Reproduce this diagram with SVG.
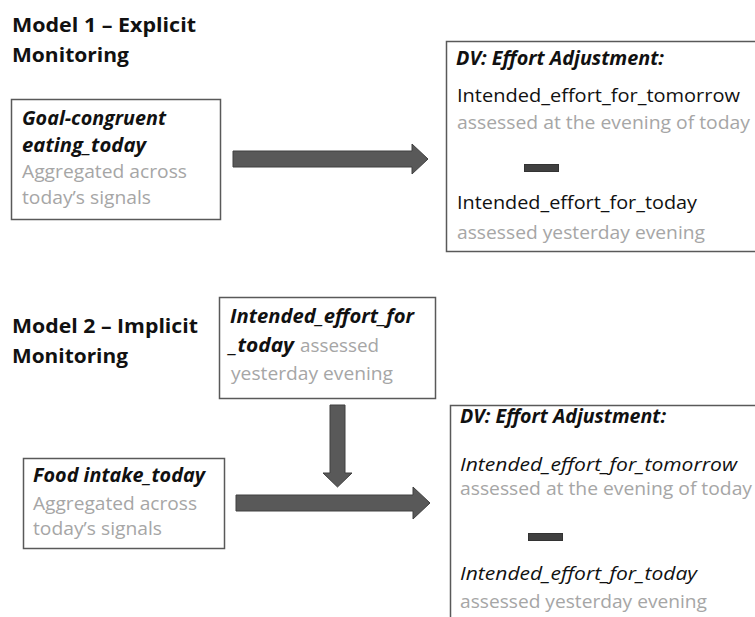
<svg xmlns="http://www.w3.org/2000/svg" width="755" height="617" viewBox="0 0 755 617">
<style>
text{font-family:"Open Sans","Liberation Sans",sans-serif;font-size:19px;fill:#111}
.title{font-weight:bold;font-size:20px}
.bi{font-weight:bold;font-style:italic}
.it{font-style:italic}
.g{fill:#a6a6a6}
.box{fill:#fff;stroke:#595959;stroke-width:1.5}
.arr{fill:#595959;stroke:#404040;stroke-width:1}
</style>
<rect width="755" height="617" fill="#fff"/>
<g id="title1">
<text class="title" x="12" y="32" textLength="184" lengthAdjust="spacingAndGlyphs">Model 1 – Explicit</text>
<text class="title" x="12" y="62" textLength="117" lengthAdjust="spacingAndGlyphs">Monitoring</text>
</g>
<g id="goal">
<rect class="box" x="11.5" y="99.5" width="209" height="120"/>
<text class="bi" x="22" y="125" textLength="144" lengthAdjust="spacingAndGlyphs">Goal-congruent</text>
<text class="bi" x="22" y="152" textLength="124" lengthAdjust="spacingAndGlyphs">eating_today</text>
<text class="g" x="22" y="178" textLength="165" lengthAdjust="spacingAndGlyphs">Aggregated across</text>
<text class="g" x="22" y="204" textLength="129" lengthAdjust="spacingAndGlyphs">today’s signals</text>
</g>
<g id="dv1">
<rect class="box" x="446.5" y="41.5" width="320" height="210"/>
<text class="bi" x="456" y="65" textLength="208" lengthAdjust="spacingAndGlyphs">DV: Effort Adjustment:</text>
<text x="457" y="102" textLength="283" lengthAdjust="spacingAndGlyphs">Intended_effort_for_tomorrow</text>
<text class="g" x="457" y="129" textLength="293" lengthAdjust="spacingAndGlyphs">assessed at the evening of today</text>
<rect x="524.5" y="164.5" width="34" height="7" fill="#404040" stroke="#333" stroke-width="1"/>
<text x="457" y="209" textLength="240" lengthAdjust="spacingAndGlyphs">Intended_effort_for_today</text>
<text class="g" x="457" y="239" textLength="248" lengthAdjust="spacingAndGlyphs">assessed yesterday evening</text>
</g>
<g id="title2">
<text class="title" x="12" y="333" textLength="186" lengthAdjust="spacingAndGlyphs">Model 2 – Implicit</text>
<text class="title" x="12" y="363" textLength="116" lengthAdjust="spacingAndGlyphs">Monitoring</text>
</g>
<g id="intended">
<rect class="box" x="219.5" y="297.5" width="216" height="101"/>
<text class="bi" x="230" y="323" textLength="184" lengthAdjust="spacingAndGlyphs">Intended_effort_for</text>
<text class="bi" x="229" y="352" textLength="65" lengthAdjust="spacingAndGlyphs">_today</text>
<text class="g" x="300" y="352" textLength="79" lengthAdjust="spacingAndGlyphs">assessed</text>
<text class="g" x="231" y="380" textLength="162" lengthAdjust="spacingAndGlyphs">yesterday evening</text>
</g>
<g id="food">
<rect class="box" x="23.5" y="458.5" width="201" height="90"/>
<text class="bi" x="33" y="482" textLength="172" lengthAdjust="spacingAndGlyphs">Food intake_today</text>
<text class="g" x="33" y="510" textLength="164" lengthAdjust="spacingAndGlyphs">Aggregated across</text>
<text class="g" x="33" y="535" textLength="129" lengthAdjust="spacingAndGlyphs">today’s signals</text>
</g>
<g id="dv2">
<rect class="box" x="450.5" y="405.5" width="320" height="230"/>
<text class="bi" x="460" y="423" textLength="206" lengthAdjust="spacingAndGlyphs">DV: Effort Adjustment:</text>
<text class="it" x="460" y="471" textLength="277" lengthAdjust="spacingAndGlyphs">Intended_effort_for_tomorrow</text>
<text class="g" x="460" y="495" textLength="292" lengthAdjust="spacingAndGlyphs">assessed at the evening of today</text>
<rect x="528.5" y="533.5" width="34" height="7" fill="#404040" stroke="#333" stroke-width="1"/>
<text class="it" x="460" y="580" textLength="237" lengthAdjust="spacingAndGlyphs">Intended_effort_for_today</text>
<text class="g" x="460" y="608" textLength="247" lengthAdjust="spacingAndGlyphs">assessed yesterday evening</text>
</g>
<g id="connectors">
<path class="arr" d="M233,151 H412 V144 L428,159 L412,174 V167 H233 Z"/>
<path class="arr" d="M330,405 H345 V473 H352 L337.5,487 L323,473 H330 Z"/>
<path class="arr" d="M236,495 H413 V487 L430,503 L413,519 V511 H236 Z"/>
</g>
</svg>
